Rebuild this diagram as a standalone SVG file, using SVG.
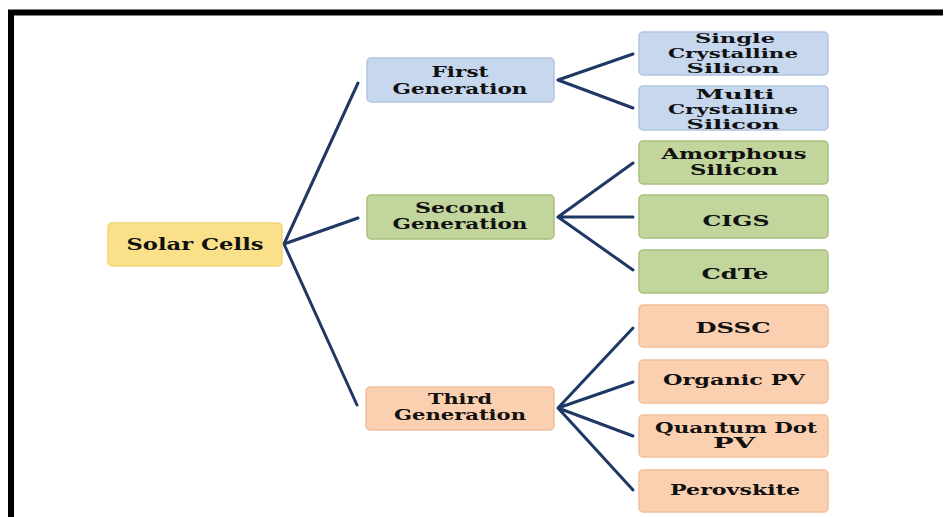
<svg xmlns="http://www.w3.org/2000/svg" width="945" height="517" viewBox="0 0 945 517">
<style>
.t{font-family:"DejaVu Serif","Liberation Serif",serif;font-weight:bold;font-size:15px;fill:#111;text-anchor:middle}
.big{font-size:17px}
.m{font-size:14px}
.s{font-size:13px}
.blue{fill:#C6D7EE;stroke:#B2C5E0;stroke-width:1.5}
.green{fill:#C1D59C;stroke:#A9C07F;stroke-width:1.5}
.orange{fill:#FBD0B0;stroke:#F0C09C;stroke-width:1.5}
.yellow{fill:#FBE08A;stroke:#F2D57A;stroke-width:1.5}
.c{fill:none;stroke:#1F3864;stroke-width:3;stroke-linecap:round;stroke-linejoin:round}
</style>
<rect width="945" height="517" fill="#fff"/>
<path d="M11,517 V12.5 H943" fill="none" stroke="#000" stroke-width="6"/>
<g id="connectors">
<path class="c" d="M358,83 L284,244 L358,218 M284,244 L357,405"/>
<path class="c" d="M633,54 L558,80 L633,108"/>
<path class="c" d="M633,163 L558,217 L633,217 M558,217 L633,270"/>
<path class="c" d="M633,328 L558,408 L633,382 M558,408 L633,436 M558,408 L633,490"/>
</g>
<g id="solar-cells"><rect class="yellow" x="108" y="223" width="174" height="43" rx="4"/><text class="t big" x="195" y="250" textLength="137" lengthAdjust="spacingAndGlyphs">Solar Cells</text></g>
<g id="first-gen"><rect class="blue" x="367" y="58" width="187" height="44" rx="4"/><text class="t m" x="460" y="77" textLength="57" lengthAdjust="spacingAndGlyphs">First</text><text class="t m" x="460" y="94" textLength="135" lengthAdjust="spacingAndGlyphs">Generation</text></g>
<g id="second-gen"><rect class="green" x="367" y="195" width="187" height="44" rx="4"/><text class="t m" x="460" y="213" textLength="90" lengthAdjust="spacingAndGlyphs">Second</text><text class="t m" x="460" y="229" textLength="135" lengthAdjust="spacingAndGlyphs">Generation</text></g>
<g id="third-gen"><rect class="orange" x="366" y="387" width="188" height="43" rx="4"/><text class="t m" x="460" y="404" textLength="64" lengthAdjust="spacingAndGlyphs">Third</text><text class="t m" x="460" y="420" textLength="132" lengthAdjust="spacingAndGlyphs">Generation</text></g>
<g id="single"><rect class="blue" x="639" y="32" width="189" height="43" rx="4"/><text class="t s" x="735" y="43" textLength="80" lengthAdjust="spacingAndGlyphs">Single</text><text class="t s" x="733" y="58" textLength="130" lengthAdjust="spacingAndGlyphs">Crystalline</text><text class="t s" x="733" y="73" textLength="93" lengthAdjust="spacingAndGlyphs">Silicon</text></g>
<g id="multi"><rect class="blue" x="639" y="86" width="189" height="44" rx="4"/><text class="t s" x="735" y="99" textLength="79" lengthAdjust="spacingAndGlyphs">Multi</text><text class="t s" x="733" y="114" textLength="130" lengthAdjust="spacingAndGlyphs">Crystalline</text><text class="t s" x="733" y="129" textLength="93" lengthAdjust="spacingAndGlyphs">Silicon</text></g>
<g id="amorphous"><rect class="green" x="639" y="141" width="189" height="43" rx="4"/><text class="t m" x="734" y="159" textLength="145" lengthAdjust="spacingAndGlyphs">Amorphous</text><text class="t m" x="734" y="175" textLength="88" lengthAdjust="spacingAndGlyphs">Silicon</text></g>
<g id="cigs"><rect class="green" x="639" y="195" width="189" height="43" rx="4"/><text class="t" x="736" y="226" textLength="67" lengthAdjust="spacingAndGlyphs">CIGS</text></g>
<g id="cdte"><rect class="green" x="639" y="250" width="189" height="43" rx="4"/><text class="t" x="735" y="279" textLength="67" lengthAdjust="spacingAndGlyphs">CdTe</text></g>
<g id="dssc"><rect class="orange" x="639" y="305" width="189" height="42" rx="4"/><text class="t" x="733" y="333" textLength="75" lengthAdjust="spacingAndGlyphs">DSSC</text></g>
<g id="organic"><rect class="orange" x="639" y="360" width="189" height="43" rx="4"/><text class="t" x="734" y="385" textLength="142" lengthAdjust="spacingAndGlyphs">Organic PV</text></g>
<g id="quantum"><rect class="orange" x="639" y="415" width="189" height="42" rx="4"/><text class="t m" x="736" y="433" textLength="162" lengthAdjust="spacingAndGlyphs">Quantum Dot</text><text class="t m" x="734" y="448" textLength="42" lengthAdjust="spacingAndGlyphs">PV</text></g>
<g id="perovskite"><rect class="orange" x="639" y="470" width="189" height="42" rx="4"/><text class="t" x="735" y="495" textLength="130" lengthAdjust="spacingAndGlyphs">Perovskite</text></g>
</svg>
